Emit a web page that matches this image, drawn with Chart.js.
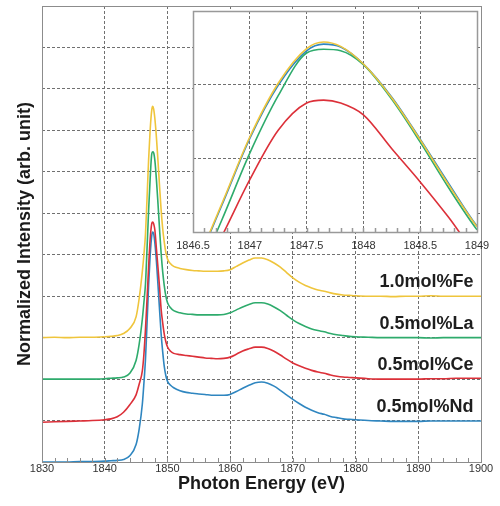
<!DOCTYPE html>
<html lang="en">
<head>
<meta charset="UTF-8">
<title>Normalized XANES spectra</title>
<script src="https://cdn.jsdelivr.net/npm/chart.js"></script>
<style>
    body { margin: 0; background: #fff; }
    #wrap { position: relative; width: 500px; height: 506px; }
    #main { position: absolute; left: 0; top: 0; }
    #inset { position: absolute; left: 150px; top: 0; }
</style>
</head>
<body>
<div id="wrap">
    <canvas id="main" width="500" height="506"></canvas>
    <canvas id="inset" width="350" height="262"></canvas>
</div>
<script>
// photon energy (eV), finer around the white line
const energy = [
    1830, 1832, 1834, 1836, 1838, 1840, 1841, 1842, 1843, 1844,
    1845, 1845.5, 1846, 1846.25, 1846.5, 1846.75, 1847, 1847.25, 1847.5, 1847.65,
    1847.8, 1848, 1848.25, 1848.5, 1848.75, 1849, 1849.25, 1849.5, 1849.75, 1850,
    1850.5, 1851, 1852, 1853, 1854, 1855, 1856, 1857, 1858, 1859,
    1860, 1861, 1862, 1863, 1864, 1865, 1866, 1867, 1868, 1869,
    1870, 1871, 1872, 1873, 1874, 1875, 1876, 1877, 1878, 1879,
    1880, 1882, 1884, 1886, 1888, 1890, 1892, 1894, 1896, 1898,
    1900
];

// normalized intensity (no offset)
const fe = [
    0.00, 0.01, 0.00, 0.01, 0.01, 0.02, 0.03, 0.05, 0.10, 0.22,
    0.50, 0.95, 1.60, 2.00, 2.50, 3.37, 4.29, 5.02, 5.49, 5.58,
    5.52, 5.28, 4.82, 4.25, 3.64, 3.07, 2.62, 2.30, 2.05, 1.90,
    1.78, 1.72, 1.67, 1.64, 1.62, 1.61, 1.60, 1.60, 1.60, 1.61,
    1.64, 1.72, 1.80, 1.87, 1.92, 1.92, 1.88, 1.80, 1.70, 1.57,
    1.44, 1.34, 1.26, 1.20, 1.15, 1.12, 1.08, 1.05, 1.03, 1.02,
    1.01, 1.00, 1.00, 0.99, 1.00, 1.00, 1.01, 1.00, 1.00, 1.00,
    1.00
];
const la = [
    0.00, 0.00, 0.00, 0.00, 0.00, 0.01, 0.02, 0.03, 0.05, 0.14,
    0.45, 0.85, 1.45, 1.85, 2.30, 3.15, 4.07, 4.85, 5.43, 5.48,
    5.46, 5.27, 4.80, 4.22, 3.60, 3.03, 2.58, 2.25, 2.00, 1.85,
    1.72, 1.65, 1.60, 1.57, 1.56, 1.55, 1.55, 1.55, 1.55, 1.56,
    1.60, 1.67, 1.74, 1.80, 1.84, 1.84, 1.81, 1.74, 1.65, 1.54,
    1.43, 1.34, 1.27, 1.21, 1.17, 1.14, 1.10, 1.07, 1.05, 1.03,
    1.02, 1.01, 1.00, 1.00, 1.00, 1.00, 0.99, 1.00, 1.00, 1.00,
    1.00
];
const ce = [
    -0.04, -0.03, -0.02, -0.01, 0.00, 0.02, 0.04, 0.09, 0.20, 0.38,
    0.62, 0.88, 1.20, 1.60, 2.20, 2.93, 3.71, 4.38, 4.75, 4.79,
    4.75, 4.59, 4.13, 3.68, 3.20, 2.68, 2.35, 2.08, 1.90, 1.78,
    1.67, 1.62, 1.59, 1.57, 1.55, 1.53, 1.51, 1.50, 1.49, 1.50,
    1.53, 1.60, 1.68, 1.73, 1.77, 1.77, 1.74, 1.67, 1.58, 1.48,
    1.39, 1.32, 1.26, 1.21, 1.17, 1.14, 1.10, 1.07, 1.05, 1.04,
    1.03, 1.01, 1.00, 1.00, 1.00, 1.00, 1.01, 1.01, 1.02, 1.02,
    1.02
];
const nd = [
    0.00, 0.00, 0.00, 0.01, 0.01, 0.02, 0.03, 0.04, 0.06, 0.15,
    0.42, 0.80, 1.40, 1.90, 2.48, 3.35, 4.27, 4.99, 5.46, 5.55,
    5.51, 5.28, 4.83, 4.26, 3.66, 3.08, 2.65, 2.30, 2.08, 1.95,
    1.85, 1.79, 1.72, 1.68, 1.66, 1.64, 1.63, 1.61, 1.61, 1.61,
    1.63, 1.70, 1.78, 1.85, 1.91, 1.93, 1.90, 1.83, 1.73, 1.62,
    1.51, 1.41, 1.32, 1.25, 1.19, 1.15, 1.10, 1.07, 1.04, 1.03,
    1.02, 1.00, 0.99, 0.98, 0.98, 0.98, 0.99, 0.99, 0.99, 0.99,
    0.99
];

const sampleNames = ['1.0mol%Fe', '0.5mol%La', '0.5mol%Ce', '0.5mol%Nd'];
const sampleData = [fe, la, ce, nd];
const stackOffset = [3, 2, 1, 0];
const sampleColors = ['#efc53c', '#2eab6c', '#dc3039', '#2f86c0'];

const mainTicks = [1830, 1840, 1850, 1860, 1870, 1880, 1890, 1900];
const insetTicks = [1846.5, 1847, 1847.5, 1848, 1848.5, 1849];

const FONT = "'Liberation Sans', Arial, sans-serif";
Chart.defaults.font.family = FONT;

// white plot area, solid frame and small inward minor ticks
const framePlugin = {
    id: 'frame',
    beforeDraw(chart, args, opts) {
        if (!opts.fill) return;
        const { ctx, chartArea: a } = chart;
        ctx.save();
        ctx.fillStyle = '#fff';
        ctx.fillRect(a.left, a.top, a.right - a.left, a.bottom - a.top);
        ctx.restore();
    },
    afterDraw(chart, args, opts) {
        const { ctx, chartArea: a, scales: { x } } = chart;
        ctx.save();
        ctx.strokeStyle = opts.color || '#8c8c8c';
        ctx.lineWidth = opts.width || 1;
        ctx.beginPath();
        const n = Math.round((x.max - x.min) / opts.minor);
        for (let i = 1; i < n; i++) {
            const px = Math.round(x.getPixelForValue(x.min + i * opts.minor)) + 0.5;
            ctx.moveTo(px, a.bottom);
            ctx.lineTo(px, a.bottom - 4);
        }
        ctx.stroke();
        ctx.strokeRect(Math.round(a.left) + 0.5, Math.round(a.top) + 0.5,
            Math.round(a.right - a.left), Math.round(a.bottom - a.top));
        ctx.restore();
    }
};

// sample names next to the flat tail of each curve
const labelPlugin = {
    id: 'curveLabels',
    afterDatasetsDraw(chart) {
        const { ctx, scales: { x, y } } = chart;
        ctx.save();
        ctx.font = 'bold 18px ' + FONT;
        ctx.fillStyle = '#1e1e1e';
        ctx.textAlign = 'right';
        ctx.textBaseline = 'middle';
        sampleNames.forEach((name, i) => {
            ctx.fillText(name, x.getPixelForValue(1898.8), y.getPixelForValue(stackOffset[i] + 1.33));
        });
        ctx.restore();
    }
};

function makeSets(withOffset) {
    return sampleNames.map((name, i) => ({
        label: name,
        data: energy.map((e, k) => ({ x: e, y: sampleData[i][k] + (withOffset ? stackOffset[i] : 0) })),
        borderColor: sampleColors[i],
        borderWidth: 1.6,
        pointRadius: 0,
        fill: false,
        cubicInterpolationMode: 'monotone'
    }));
}

const gridStyle = { color: '#707070', lineWidth: 1, drawTicks: false };
const dashed = { display: false, dash: [3, 2] };

new Chart(document.getElementById('main'), {
    type: 'line',
    data: { datasets: makeSets(true) },
    options: {
        responsive: false,
        animation: false,
        layout: { padding: { top: 6, right: 19, left: 0, bottom: 0 } },
        plugins: {
            legend: { display: false },
            tooltip: { enabled: false },
            frame: { fill: false, minor: 2, color: '#8c8c8c' }
        },
        scales: {
            x: {
                type: 'linear', min: 1830, max: 1900,
                afterBuildTicks: s => { s.ticks = mainTicks.map(v => ({ value: v })); },
                afterFit: s => { s.height = 44; },
                grid: gridStyle,
                border: dashed,
                ticks: { padding: 0, color: '#333', font: { size: 11 }, maxRotation: 0, autoSkip: false, callback: v => String(v) },
                title: { display: true, text: 'Photon Energy (eV)', color: '#1a1a1a',
                    font: { size: 18, weight: 'bold' }, padding: { top: 0, bottom: 11 } }
            },
            y: {
                min: 0, max: 11,
                afterFit: s => { s.width = 42; },
                grid: gridStyle,
                border: dashed,
                ticks: { display: false, stepSize: 1 },
                title: { display: true, text: 'Normalized Intensity (arb. unit)', color: '#1a1a1a',
                    font: { size: 18, weight: 'bold' }, padding: { top: 14, bottom: 0 } }
            }
        }
    },
    plugins: [framePlugin, labelPlugin]
});

new Chart(document.getElementById('inset'), {
    type: 'line',
    data: { datasets: makeSets(false) },
    options: {
        responsive: false,
        animation: false,
        layout: { padding: { top: 11, right: 23, left: 0, bottom: 0 } },
        plugins: {
            legend: { display: false },
            tooltip: { enabled: false },
            frame: { fill: true, minor: 0.1, color: '#999', width: 1.5 }
        },
        scales: {
            x: {
                type: 'linear', min: 1846.5, max: 1849,
                afterBuildTicks: s => { s.ticks = insetTicks.map(v => ({ value: v })); },
                afterFit: s => { s.height = 30; },
                grid: gridStyle,
                border: dashed,
                ticks: { padding: 7, color: '#333', font: { size: 11 }, maxRotation: 0, autoSkip: false, callback: v => String(v) }
            },
            y: {
                min: 3, max: 6,
                afterFit: s => { s.width = 43; },
                grid: gridStyle,
                border: dashed,
                ticks: { display: false, stepSize: 1 }
            }
        }
    },
    plugins: [framePlugin]
});
</script>
</body>
</html>
